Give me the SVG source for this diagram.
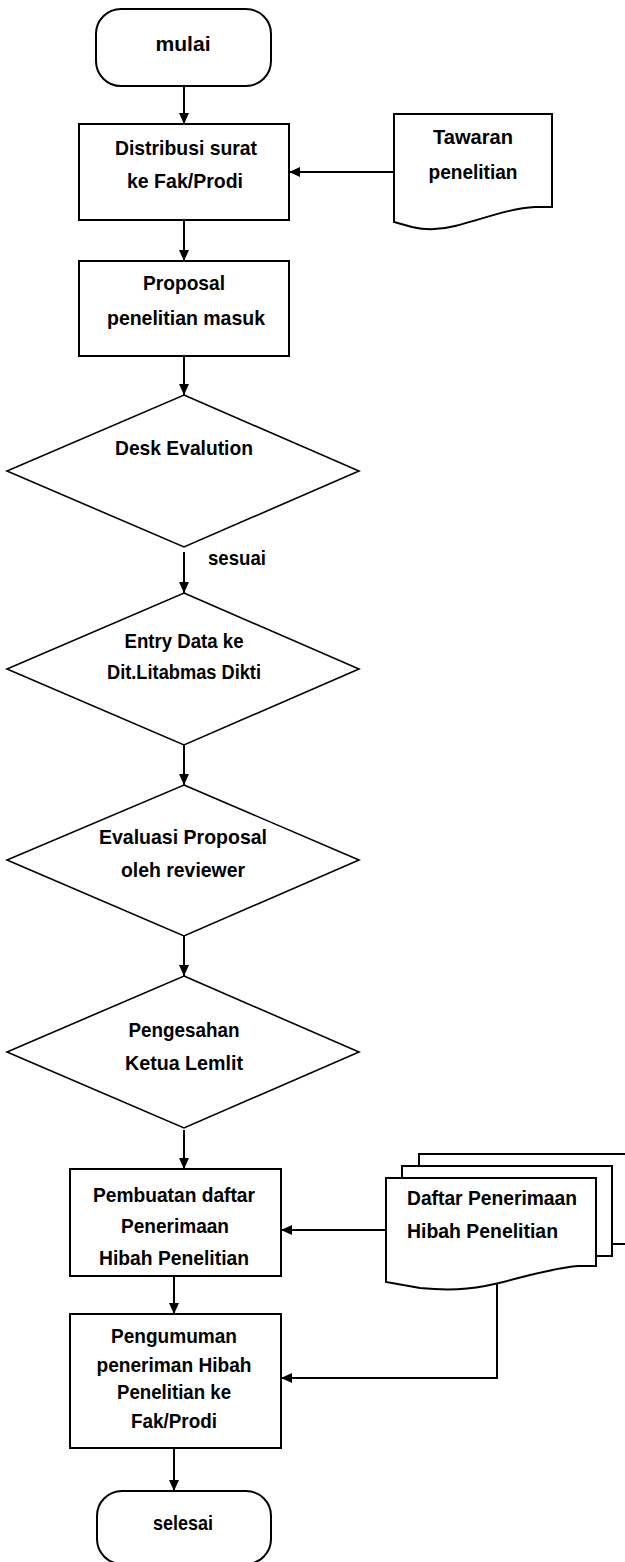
<svg xmlns="http://www.w3.org/2000/svg" width="625" height="1562" viewBox="0 0 625 1562">
<style>
.s{fill:#fff;stroke:#000;stroke-width:2}
.d{fill:#fff;stroke:#000;stroke-width:1.6}
.c{fill:none;stroke:#000;stroke-width:2}
text{font-family:"Liberation Sans",Arial,sans-serif;font-weight:bold;font-size:21px;fill:#000}
.m{text-anchor:middle}
</style>
<defs>
<marker id="ah" markerUnits="userSpaceOnUse" markerWidth="12" markerHeight="11" refX="11" refY="5.5" orient="auto">
<path d="M0,0.5 L11,5.5 L0,10.5 z" fill="#000"/>
</marker>
</defs>
<rect width="625" height="1562" fill="#fff"/>
<g id="connectors">
<path class="c" d="M184,86 V124" marker-end="url(#ah)"/>
<path class="c" d="M394,172 H289" marker-end="url(#ah)"/>
<path class="c" d="M184,220 V261" marker-end="url(#ah)"/>
<path class="c" d="M184,356 V395" marker-end="url(#ah)"/>
<path class="c" d="M184,552 V593" marker-end="url(#ah)"/>
<path class="c" d="M184,745 V785" marker-end="url(#ah)"/>
<path class="c" d="M184,936 V976" marker-end="url(#ah)"/>
<path class="c" d="M184,1130 V1169" marker-end="url(#ah)"/>
<path class="c" d="M386,1230 H281" marker-end="url(#ah)"/>
<path class="c" d="M174,1276 V1314" marker-end="url(#ah)"/>
<path class="c" d="M497,1283 V1378 H281" marker-end="url(#ah)"/>
<path class="c" d="M174,1448 V1491" marker-end="url(#ah)"/>
<text x="208" y="565" textLength="58" lengthAdjust="spacingAndGlyphs">sesuai</text>
</g>
<g id="mulai">
<rect class="s" x="96" y="9" width="175" height="77" rx="25"/>
<text class="m" x="183" y="51" textLength="55" lengthAdjust="spacingAndGlyphs">mulai</text>
</g>
<g id="distribusi">
<rect class="s" x="79" y="124" width="210" height="96"/>
<text class="m" x="186" y="155" textLength="142" lengthAdjust="spacingAndGlyphs">Distribusi surat</text>
<text class="m" x="185" y="188" textLength="116" lengthAdjust="spacingAndGlyphs">ke Fak/Prodi</text>
</g>
<g id="tawaran">
<path class="s" d="M394,114 H552 V207 H535 C510,208 480,220 455,226 C440,230 425,230 412,227 L394,222 Z"/>
<text class="m" x="473" y="144" textLength="80" lengthAdjust="spacingAndGlyphs">Tawaran</text>
<text class="m" x="473" y="179" textLength="89" lengthAdjust="spacingAndGlyphs">penelitian</text>
</g>
<g id="proposal">
<rect class="s" x="79" y="261" width="210" height="95"/>
<text class="m" x="184" y="290" textLength="82" lengthAdjust="spacingAndGlyphs">Proposal</text>
<text class="m" x="186" y="325" textLength="158" lengthAdjust="spacingAndGlyphs">penelitian masuk</text>
</g>
<g id="desk">
<path class="d" d="M184,395 L359,471 L184,547 L7,471 Z"/>
<text class="m" x="184" y="455" textLength="138" lengthAdjust="spacingAndGlyphs">Desk Evalution</text>
</g>
<g id="entry">
<path class="d" d="M184,593 L359,669 L184,745 L7,669 Z"/>
<text class="m" x="184" y="648" textLength="119" lengthAdjust="spacingAndGlyphs">Entry Data ke</text>
<text class="m" x="184" y="679" textLength="154" lengthAdjust="spacingAndGlyphs">Dit.Litabmas Dikti</text>
</g>
<g id="evaluasi">
<path class="d" d="M184,785 L359,860 L184,936 L7,860 Z"/>
<text class="m" x="183" y="844" textLength="168" lengthAdjust="spacingAndGlyphs">Evaluasi Proposal</text>
<text class="m" x="183" y="877" textLength="124" lengthAdjust="spacingAndGlyphs">oleh reviewer</text>
</g>
<g id="pengesahan">
<path class="d" d="M184,976 L359,1052 L184,1128 L7,1052 Z"/>
<text class="m" x="184" y="1037" textLength="111" lengthAdjust="spacingAndGlyphs">Pengesahan</text>
<text class="m" x="184" y="1070" textLength="118" lengthAdjust="spacingAndGlyphs">Ketua Lemlit</text>
</g>
<g id="pembuatan">
<rect class="s" x="70" y="1169" width="211" height="107"/>
<text class="m" x="174" y="1202" textLength="162" lengthAdjust="spacingAndGlyphs">Pembuatan daftar</text>
<text class="m" x="175" y="1233" textLength="108" lengthAdjust="spacingAndGlyphs">Penerimaan</text>
<text class="m" x="174" y="1265" textLength="150" lengthAdjust="spacingAndGlyphs">Hibah Penelitian</text>
</g>
<g id="daftar">
<rect class="s" x="419" y="1154" width="215" height="90"/>
<rect class="s" x="402" y="1166" width="210" height="90"/>
<path class="s" d="M386,1178 H596 V1266 H578 C550,1268 515,1280 485,1286 C465,1290 440,1290 420,1288 L386,1282 Z"/>
<text x="407" y="1205" textLength="170" lengthAdjust="spacingAndGlyphs">Daftar Penerimaan</text>
<text x="407" y="1238" textLength="151" lengthAdjust="spacingAndGlyphs">Hibah Penelitian</text>
</g>
<g id="pengumuman">
<rect class="s" x="70" y="1314" width="211" height="134"/>
<text class="m" x="174" y="1343" textLength="126" lengthAdjust="spacingAndGlyphs">Pengumuman</text>
<text class="m" x="174" y="1372" textLength="155" lengthAdjust="spacingAndGlyphs">peneriman Hibah</text>
<text class="m" x="174" y="1399" textLength="114" lengthAdjust="spacingAndGlyphs">Penelitian ke</text>
<text class="m" x="174" y="1428" textLength="86" lengthAdjust="spacingAndGlyphs">Fak/Prodi</text>
</g>
<g id="selesai">
<rect class="s" x="97" y="1491" width="174" height="73" rx="25"/>
<text class="m" x="183" y="1530" textLength="60" lengthAdjust="spacingAndGlyphs">selesai</text>
</g>
</svg>
